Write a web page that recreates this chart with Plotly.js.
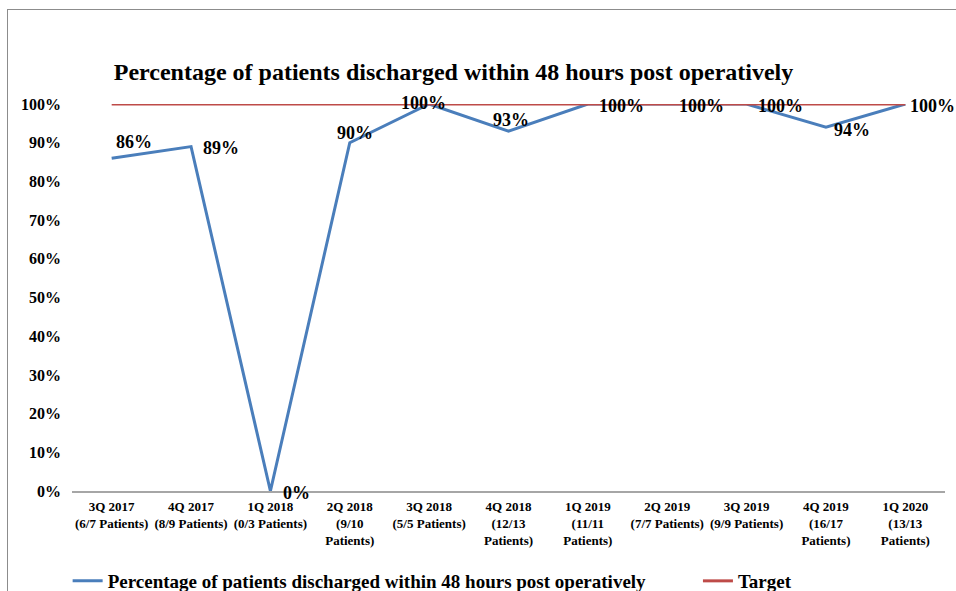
<!DOCTYPE html>
<html>
<head>
<meta charset="utf-8">
<script src="https://cdn.plot.ly/plotly-3.0.1.min.js"></script>
<style>
  html, body { margin: 0; padding: 0; background: #fff; overflow: hidden; }
  #chart { width: 956px; height: 591px; }
  #frame { position: absolute; left: 7px; top: 9px; width: 960px; height: 600px;
           border-left: 1px solid #8c8c8c; border-top: 1px solid #8c8c8c; pointer-events: none; }
  .xtick text, .ytick text { font-weight: bold !important; }
</style>
</head>
<body>
<div id="chart"></div>
<div id="frame"></div>
<script>
// ---- data ----
const categories = [
  "3Q 2017<br>(6/7 Patients)",
  "4Q 2017<br>(8/9 Patients)",
  "1Q 2018<br>(0/3 Patients)",
  "2Q 2018<br>(9/10<br>Patients)",
  "3Q 2018<br>(5/5 Patients)",
  "4Q 2018<br>(12/13<br>Patients)",
  "1Q 2019<br>(11/11<br>Patients)",
  "2Q 2019<br>(7/7 Patients)",
  "3Q 2019<br>(9/9 Patients)",
  "4Q 2019<br>(16/17<br>Patients)",
  "1Q 2020<br>(13/13<br>Patients)"
];
const discharged = [0.86, 0.89, 0.00, 0.90, 1.00, 0.93, 1.00, 1.00, 1.00, 0.94, 1.00];
const target = [1, 1, 1, 1, 1, 1, 1, 1, 1, 1, 1];
const seriesNames = ["Percentage of patients discharged within 48 hours post operatively", "Target"];
const yTickVals = [0, 0.1, 0.2, 0.3, 0.4, 0.5, 0.6, 0.7, 0.8, 0.9, 1.0];

// label offsets (pixels, +x right, +y up) for the data labels
const labelDX = [22, 30, 26, 5, -6, 2, 34, 34, 34, 26, 27];
const labelDY = [16, -1, -2, 10, 1, 11, -2, -2, -2, -3, -2];

const FONT = '"Liberation Serif", "Times New Roman", Times, serif';

const traces = [
  {
    x: categories, y: discharged, type: 'scatter', mode: 'lines',
    name: '<b>' + seriesNames[0] + '</b>', legend: 'legend',
    line: { color: '#4A7EBB', width: 3 }
  },
  {
    x: categories, y: target, type: 'scatter', mode: 'lines',
    name: '<b>' + seriesNames[1] + '</b>', legend: 'legend2',
    line: { color: '#BE4B48', width: 3 }
  }
];

const annotations = discharged.map((v, i) => ({
  x: categories[i], y: v, xref: 'x', yref: 'y',
  text: '<b>' + Math.round(v * 100) + '%</b>',
  showarrow: false,
  xshift: labelDX[i], yshift: labelDY[i],
  font: { family: FONT, size: 18, color: '#000' }
}));

const legendFont = { family: FONT, size: 19, color: '#000' };

const layout = {
  width: 956, height: 591,
  margin: { l: 72, r: 11, t: 104, b: 100 },
  paper_bgcolor: '#fff', plot_bgcolor: '#fff',
  font: { family: FONT, color: '#000' },
  title: {
    text: '<b>Percentage of patients discharged within 48 hours post operatively</b>',
    font: { family: FONT, size: 24, color: '#000' },
    xref: 'paper', x: 0.437, xanchor: 'center',
    yref: 'container', y: 1 - 72 / 591, yanchor: 'middle'
  },
  xaxis: {
    type: 'category', range: [-0.5, 10.5], automargin: false,
    showgrid: false, zeroline: false,
    showline: true, linecolor: '#A6A6A6', linewidth: 1.5,
    ticks: '', ticklabelstandoff: 3,
    tickfont: { family: FONT, size: 13, color: '#000' },
    tickangle: 0
  },
  yaxis: {
    range: [0, 1], tickvals: yTickVals, tickformat: '.0%', automargin: false,
    showgrid: false, zeroline: false, showline: false, ticks: '',
    ticklabelstandoff: 10,
    tickfont: { family: FONT, size: 16, color: '#000' }
  },
  showlegend: true,
  legend: {
    orientation: 'h', xref: 'paper', x: -0.005, xanchor: 'left',
    yref: 'container', y: 1 - 581 / 591, yanchor: 'middle',
    font: legendFont, bgcolor: 'rgba(0,0,0,0)', itemwidth: 30
  },
  legend2: {
    orientation: 'h', xref: 'paper', x: 0.717, xanchor: 'left',
    yref: 'container', y: 1 - 581 / 591, yanchor: 'middle',
    font: legendFont, bgcolor: 'rgba(0,0,0,0)', itemwidth: 30
  },
  annotations: annotations
};

Plotly.newPlot('chart', traces, layout, { displayModeBar: false, staticPlot: true });
</script>
</body>
</html>
